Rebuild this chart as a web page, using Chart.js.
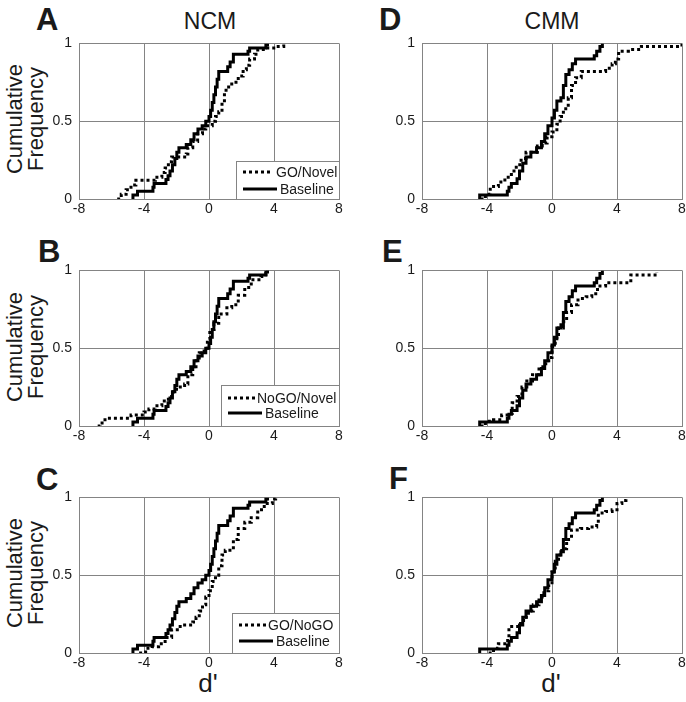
<!DOCTYPE html>
<html><head><meta charset="utf-8">
<script src="https://cdn.jsdelivr.net/npm/chart.js@4.4.1/dist/chart.umd.min.js"></script>
<style>
html,body{margin:0;padding:0;background:#fff;overflow:hidden;width:686px;height:702px;}
body{position:relative;font-family:"Liberation Sans",Arial,sans-serif;color:#1a1a1a;}
canvas{position:absolute;}
.t{position:absolute;white-space:nowrap;line-height:1;}
.let{font-weight:bold;font-size:31px;}
.ttl{font-size:23px;}
.ylab{position:absolute;font-size:22px;line-height:21px;text-align:center;width:160px;transform:translate(-50%,-50%) rotate(-90deg);white-space:nowrap;}
.xlab{font-size:26px;}
</style></head><body>
<div class="t let" style="left:36px;top:4px;">A</div>
<div class="t let" style="left:38px;top:236px;">B</div>
<div class="t let" style="left:36px;top:464px;">C</div>
<div class="t let" style="left:379px;top:4px;">D</div>
<div class="t let" style="left:382px;top:236px;">E</div>
<div class="t let" style="left:389px;top:463px;">F</div>
<div class="t ttl" style="left:210px;top:10px;transform:translateX(-50%);">NCM</div>
<div class="t ttl" style="left:552px;top:10px;transform:translateX(-50%);">CMM</div>
<div class="ylab" style="left:25px;top:119px;">Cumulative<br>Frequency</div>
<div class="ylab" style="left:25px;top:347px;">Cumulative<br>Frequency</div>
<div class="ylab" style="left:25px;top:573px;">Cumulative<br>Frequency</div>
<div class="t xlab" style="left:208px;top:670px;transform:translateX(-50%);">d'</div>
<div class="t xlab" style="left:551px;top:670px;transform:translateX(-50%);">d'</div>
<script>
// ---- tick labels ----
const xTicks = [-8, -4, 0, 4, 8];
const yTicks = [0, 0.5, 1];

// ---- NCM baseline (solid, panels A-C) ----
const ncmBaselineX = [-4.72, -4.68, -4.4, -3.45, -3.38, -2.65, -2.52, -2.4, -2.25, -2.1, -1.98, -1.85, -1.4, -1.12, -0.92, -0.68, -0.42, -0.2, 0.0, 0.1, 0.2, 0.3, 0.4, 0.5, 0.6, 1.15, 1.3, 1.5, 2.4, 2.5, 3.5, 3.6];
const ncmBaselineY = [0, 0.025, 0.05, 0.075, 0.1, 0.125, 0.15, 0.18, 0.22, 0.26, 0.3, 0.33, 0.35, 0.38, 0.42, 0.45, 0.47, 0.5, 0.53, 0.57, 0.62, 0.67, 0.72, 0.77, 0.82, 0.85, 0.88, 0.93, 0.95, 0.97, 0.99, 1.0];

// ---- NCM GO/Novel (dotted, panel A) ----
const ncmGoNovelX = [-5.65, -5.4, -5.1, -4.8, -4.5, -3.3, -2.9, -2.7, -2.5, -2.3, -1.4, -1.3, -1.0, -0.7, -0.4, -0.2, 0.2, 0.4, 0.6, 0.8, 0.95, 1.05, 1.4, 1.8, 2.1, 2.3, 2.5, 2.8, 3.0, 3.6, 4.1, 4.6];
const ncmGoNovelY = [0, 0.03, 0.06, 0.09, 0.12, 0.14, 0.17, 0.2, 0.24, 0.27, 0.29, 0.33, 0.37, 0.42, 0.45, 0.47, 0.5, 0.53, 0.56, 0.62, 0.68, 0.72, 0.75, 0.79, 0.83, 0.86, 0.9, 0.93, 0.96, 0.97, 0.98, 1.0];

// ---- NCM NoGO/Novel (dotted, panel B) ----
const ncmNoGoNovelX = [-6.85, -6.7, -6.4, -4.8, -4.0, -3.7, -3.3, -2.9, -2.5, -2.2, -2.0, -1.5, -1.3, -1.0, -0.8, -0.6, -0.3, -0.1, 0.05, 0.3, 0.6, 1.1, 1.4, 1.8, 2.2, 2.6, 3.2, 3.5, 3.6];
const ncmNoGoNovelY = [0, 0.02, 0.05, 0.07, 0.09, 0.11, 0.13, 0.16, 0.19, 0.22, 0.25, 0.27, 0.33, 0.38, 0.42, 0.47, 0.5, 0.56, 0.62, 0.66, 0.72, 0.76, 0.78, 0.84, 0.89, 0.94, 0.96, 0.98, 1.0];

// ---- NCM GO/NoGO (dotted, panel C) ----
const ncmGoNoGoX = [-4.3, -3.9, -3.5, -3.1, -2.7, -2.3, -1.95, -1.5, -1.0, -0.8, -0.6, -0.4, -0.2, 0.0, 0.2, 0.4, 0.6, 0.8, 1.0, 1.5, 1.8, 2.2, 2.6, 3.0, 3.4, 3.9, 4.1];
const ncmGoNoGoY = [0, 0.03, 0.04, 0.06, 0.1, 0.15, 0.17, 0.18, 0.2, 0.23, 0.27, 0.31, 0.36, 0.4, 0.46, 0.5, 0.56, 0.63, 0.66, 0.73, 0.8, 0.84, 0.87, 0.92, 0.96, 0.99, 1.0];

// ---- CMM baseline (solid, panels D-F) ----
const cmmBaselineX = [-4.5, -4.45, -2.75, -2.65, -2.5, -2.15, -2.0, -1.8, -1.6, -1.3, -0.95, -0.65, -0.45, -0.25, 0.0, 0.15, 0.3, 0.55, 0.7, 0.85, 1.05, 1.25, 1.45, 2.6, 2.75, 2.95, 3.1];
const cmmBaselineY = [0, 0.025, 0.05, 0.075, 0.1, 0.13, 0.18, 0.23, 0.27, 0.3, 0.33, 0.37, 0.42, 0.47, 0.52, 0.57, 0.63, 0.65, 0.73, 0.8, 0.83, 0.87, 0.9, 0.92, 0.95, 0.98, 1.0];

// ---- CMM GO/Novel (dotted, panel D) ----
const cmmGoNovelX = [-4.4, -4.1, -3.8, -3.3, -2.9, -2.5, -2.2, -1.9, -1.6, -0.9, -0.6, -0.3, 0.0, 0.3, 0.5, 0.7, 1.0, 1.2, 1.45, 1.8, 3.3, 3.7, 3.9, 4.1, 4.7, 5.5, 7.9, 8.0];
const cmmGoNovelY = [0, 0.03, 0.08, 0.11, 0.14, 0.18, 0.22, 0.26, 0.3, 0.34, 0.36, 0.4, 0.43, 0.48, 0.53, 0.58, 0.65, 0.73, 0.78, 0.82, 0.84, 0.87, 0.9, 0.95, 0.96, 0.98, 0.99, 0.99];

// ---- CMM NoGO/Novel (dotted, panel E) ----
const cmmNoGoNovelX = [-4.4, -4.1, -3.6, -3.1, -2.7, -2.45, -2.15, -1.85, -1.55, -1.2, -0.8, -0.5, -0.2, 0.0, 0.2, 0.4, 0.7, 0.9, 1.2, 1.6, 2.1, 2.45, 2.8, 3.3, 4.85, 6.45];
const cmmNoGoNovelY = [0, 0.03, 0.04, 0.07, 0.08, 0.15, 0.19, 0.25, 0.29, 0.33, 0.38, 0.4, 0.44, 0.51, 0.56, 0.63, 0.67, 0.73, 0.78, 0.82, 0.83, 0.85, 0.9, 0.92, 0.97, 0.99];

// ---- CMM GO/NoGO (dotted, panel F) ----
const cmmGoNoGoX = [-3.9, -3.6, -3.3, -2.9, -2.65, -2.05, -1.75, -1.45, -1.15, -0.8, -0.5, -0.2, 0.0, 0.2, 0.4, 0.6, 0.9, 1.2, 1.75, 2.25, 2.75, 2.85, 3.3, 3.7, 4.0, 4.3, 4.55];
const cmmGoNoGoY = [0, 0.03, 0.06, 0.08, 0.17, 0.19, 0.23, 0.27, 0.31, 0.36, 0.4, 0.44, 0.52, 0.59, 0.63, 0.67, 0.73, 0.79, 0.8, 0.81, 0.83, 0.9, 0.91, 0.92, 0.96, 0.98, 1.0];

const toPts = (xs, ys) => xs.map((x, i) => ({ x: x, y: ys[i] }));

const GRID = '#848484';
const TXT = '#1a1a1a';
const FONT = '"Liberation Sans", Arial, sans-serif';

const boxLegend = {
  id: 'boxLegend',
  afterDatasetsDraw(chart, args, o) {
    if (!o || !o.width) return;
    const ctx = chart.ctx, a = chart.chartArea;
    const x0 = Math.round(a.right - o.width), y0 = Math.round(a.bottom - o.height);
    ctx.save();
    ctx.fillStyle = '#fff';
    ctx.fillRect(x0, y0, a.right - x0, a.bottom - y0);
    ctx.strokeStyle = GRID; ctx.lineWidth = 1;
    ctx.strokeRect(x0 + 0.5, y0 + 0.5, a.right - x0, a.bottom - y0);
    ctx.font = '14px ' + FONT;
    ctx.textBaseline = 'middle';
    chart.data.datasets.forEach((ds, i) => {
      const yy = y0 + o.rows[i];
      ctx.beginPath();
      ctx.setLineDash(ds.borderDash || []);
      ctx.lineWidth = 3; ctx.strokeStyle = '#000';
      ctx.moveTo(x0 + 7, yy); ctx.lineTo(x0 + o.lineEnd[i], yy); ctx.stroke();
      ctx.setLineDash([]);
      ctx.fillStyle = TXT;
      ctx.fillText(ds.label, x0 + o.textX[i], yy + 1);
    });
    ctx.restore();
  }
};

const PL = 40, PT = 12, PR = 12, PB = 24, PW = 260, PH = 159;

function panel(plotLeft, plotTop, dottedLabel, dottedPts, solidPts, legend) {
  const cv = document.createElement('canvas');
  const w = PW + PL + PR, h = PH + PT + PB;
  cv.width = w; cv.height = h;
  cv.style.width = w + 'px'; cv.style.height = h + 'px';
  cv.style.left = (plotLeft - PL) + 'px'; cv.style.top = (plotTop - PT) + 'px';
  document.body.appendChild(cv);
  const tickFont = { family: FONT, size: 14 };
  new Chart(cv.getContext('2d'), {
    type: 'line',
    data: {
      datasets: [
        { label: dottedLabel, data: dottedPts, borderColor: '#000', borderWidth: 3, borderDash: [3, 3], stepped: true, pointRadius: 0, fill: false, order: 1 },
        { label: 'Baseline', data: solidPts, borderColor: '#000', borderWidth: 3, stepped: true, pointRadius: 0, fill: false, order: 0 }
      ]
    },
    options: {
      responsive: false, animation: false, devicePixelRatio: 1,
      layout: { padding: { top: PT, right: PR, left: 0, bottom: 0 } },
      plugins: { legend: { display: false }, tooltip: { enabled: false }, boxLegend: legend || {} },
      scales: {
        x: {
          type: 'linear', min: -8, max: 8,
          afterFit(s) { s.height = PB; },
          afterBuildTicks(s) { s.ticks = xTicks.map(v => ({ value: v })); },
          ticks: { padding: 2, color: TXT, font: tickFont, maxRotation: 0, autoSkip: false, callback: v => String(v) },
          grid: { color: GRID, lineWidth: 1, drawTicks: false },
          border: { color: GRID, width: 1 }
        },
        y: {
          type: 'linear', min: 0, max: 1,
          afterFit(s) { s.width = PL; },
          afterBuildTicks(s) { s.ticks = yTicks.map(v => ({ value: v })); },
          ticks: { padding: 7, color: TXT, font: tickFont, callback: v => String(v) },
          grid: { color: GRID, lineWidth: 1, drawTicks: false },
          border: { color: GRID, width: 1 }
        }
      }
    },
    plugins: [boxLegend]
  });
}

panel(79, 40, 'GO/Novel', toPts(ncmGoNovelX, ncmGoNovelY), toPts(ncmBaselineX, ncmBaselineY),
  { width: 103, height: 38, rows: [11, 28], lineEnd: [37, 41], textX: [40, 44] });
panel(79, 267, 'NoGO/Novel', toPts(ncmNoGoNovelX, ncmNoGoNovelY), toPts(ncmBaselineX, ncmBaselineY),
  { width: 118, height: 41, rows: [13, 28], lineEnd: [34, 41], textX: [36, 44] });
panel(79, 494, 'GO/NoGO', toPts(ncmGoNoGoX, ncmGoNoGoY), toPts(ncmBaselineX, ncmBaselineY),
  { width: 107, height: 40, rows: [12, 28], lineEnd: [35, 41], textX: [36, 44] });
panel(422, 40, 'GO/Novel', toPts(cmmGoNovelX, cmmGoNovelY), toPts(cmmBaselineX, cmmBaselineY), null);
panel(422, 267, 'NoGO/Novel', toPts(cmmNoGoNovelX, cmmNoGoNovelY), toPts(cmmBaselineX, cmmBaselineY), null);
panel(422, 494, 'GO/NoGO', toPts(cmmGoNoGoX, cmmGoNoGoY), toPts(cmmBaselineX, cmmBaselineY), null);
</script>
</body></html>
